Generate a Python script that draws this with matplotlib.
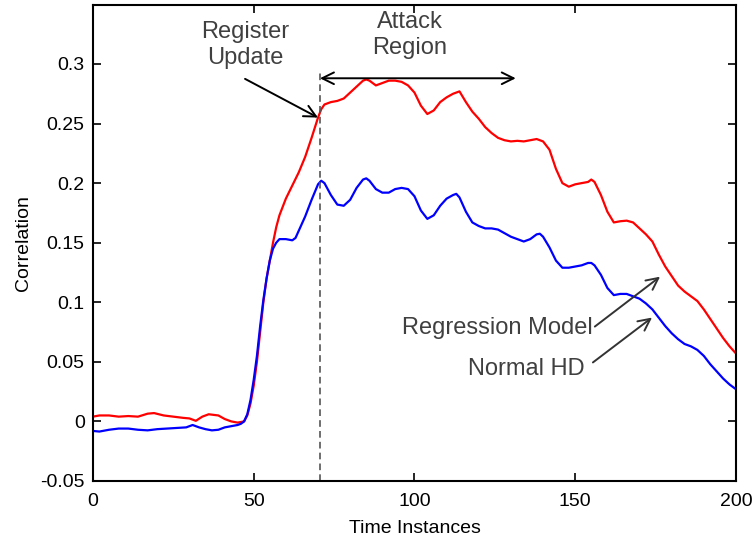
import matplotlib
matplotlib.use('Agg')
import matplotlib.pyplot as plt

plt.rcParams['font.family'] = ['Liberation Sans', 'DejaVu Sans']

# time instances sampled along each curve
t_red = [0, 2, 5, 8, 11, 14, 17, 19, 22, 25, 28, 30, 32, 34, 36, 39, 41, 43, 45, 47,
         48, 49, 50, 51, 52, 53, 54, 55, 56, 57, 58, 59, 60, 62, 64, 66, 68, 70, 71, 72,
         74, 76, 78, 80, 82, 84, 85, 86, 88, 90, 92, 94, 96, 98, 100, 102, 104, 106, 108,
         110, 112, 114, 116, 118, 120, 122, 124, 126, 128, 130, 132, 134, 136, 138, 140,
         142, 144, 146, 148, 150, 152, 154, 155, 156, 158, 160, 162, 164, 166, 168, 170,
         172, 174, 176, 178, 180, 182, 184, 186, 188, 190, 192, 194, 196, 198, 200]
regression_model = [0.004, 0.005, 0.005, 0.004, 0.0045, 0.004, 0.0065, 0.007, 0.005, 0.004,
                    0.003, 0.0025, 0.0005, 0.004, 0.006, 0.005, 0.002, 0.0, -0.001, 0.0,
                    0.005, 0.015, 0.03, 0.05, 0.075, 0.1, 0.12, 0.135, 0.15, 0.163, 0.173,
                    0.18, 0.187, 0.198, 0.209, 0.222, 0.238, 0.255, 0.262, 0.266, 0.268,
                    0.269, 0.271, 0.276, 0.281, 0.286, 0.287, 0.286, 0.282, 0.284, 0.286,
                    0.286, 0.285, 0.282, 0.276, 0.265, 0.258, 0.261, 0.268, 0.272, 0.275,
                    0.277, 0.268, 0.26, 0.254, 0.247, 0.242, 0.238, 0.236, 0.235, 0.2355,
                    0.235, 0.236, 0.237, 0.235, 0.228, 0.212, 0.2, 0.197, 0.199, 0.2, 0.201,
                    0.203, 0.201, 0.19, 0.176, 0.167, 0.168, 0.1685, 0.167, 0.162, 0.157,
                    0.151, 0.14, 0.13, 0.122, 0.114, 0.109, 0.105, 0.101, 0.094, 0.086,
                    0.078, 0.07, 0.063, 0.057]

t_blue = [0, 2, 5, 8, 11, 14, 17, 20, 23, 26, 29, 31, 33, 35, 37, 39, 41, 43, 45, 46,
          47, 48, 49, 50, 51, 52, 53, 54, 55, 56, 57, 58, 60, 62, 63, 64, 66, 68, 70, 71,
          72, 74, 76, 78, 80, 82, 84, 85, 86, 88, 90, 92, 94, 96, 98, 100, 102, 104, 106,
          108, 110, 112, 113, 114, 116, 118, 120, 122, 124, 126, 128, 130, 132, 134, 136,
          138, 139, 140, 142, 144, 146, 148, 150, 152, 154, 155, 156, 158, 160, 162, 164,
          166, 168, 170, 172, 174, 176, 178, 180, 182, 184, 186, 188, 190, 192, 194, 196,
          198, 200]
normal_hd = [-0.008, -0.0085, -0.007, -0.006, -0.006, -0.007, -0.0075, -0.0065, -0.006,
             -0.0055, -0.005, -0.003, -0.005, -0.0065, -0.0075, -0.007, -0.005, -0.004,
             -0.003, -0.002, 0.0, 0.006, 0.018, 0.035, 0.055, 0.08, 0.102, 0.12, 0.135,
             0.145, 0.15, 0.153, 0.153, 0.152, 0.154, 0.16, 0.172, 0.186, 0.199, 0.202,
             0.2, 0.19, 0.182, 0.181, 0.186, 0.196, 0.203, 0.204, 0.202, 0.195, 0.192,
             0.192, 0.195, 0.196, 0.195, 0.189, 0.177, 0.17, 0.173, 0.181, 0.187, 0.19,
             0.191, 0.188, 0.176, 0.167, 0.164, 0.162, 0.162, 0.161, 0.158, 0.155, 0.153,
             0.151, 0.153, 0.157, 0.1575, 0.155, 0.146, 0.135, 0.129, 0.129, 0.13, 0.131,
             0.133, 0.133, 0.131, 0.123, 0.112, 0.106, 0.107, 0.107, 0.105, 0.103, 0.099,
             0.094, 0.087, 0.08, 0.074, 0.069, 0.065, 0.063, 0.06, 0.055, 0.048, 0.042,
             0.036, 0.031, 0.027]

x_ticks = [0, 50, 100, 150, 200]
y_ticks = [-0.05, 0, 0.05, 0.1, 0.15, 0.2, 0.25, 0.3]
y_tick_labels = ['-0.05', '0', '0.05', '0.1', '0.15', '0.2', '0.25', '0.3']

register_update = 70.6
attack_end = 131.5

fig = plt.figure(figsize=(7.54, 5.37), dpi=100)
ax = fig.add_axes([0.1233, 0.1043, 0.8528, 0.8864])

ax.plot(t_red, regression_model, color='red', lw=1.6)
ax.plot(t_blue, normal_hd, color='blue', lw=1.6)

ax.plot([register_update, register_update], [-0.05, 0.293],
        color='#555555', lw=1.2, ls=(0, (4, 2.5)))

ax.set_xlim(0, 200)
ax.set_ylim(-0.05, 0.3495)
ax.set_xticks(x_ticks)
ax.set_yticks(y_ticks)
ax.set_yticklabels(y_tick_labels)
ax.tick_params(direction='in', top=True, right=True, length=6, width=1.2,
               labelsize=14)
ax.tick_params(axis='x', pad=9)
ax.tick_params(axis='y', pad=6)
for s in ax.spines.values():
    s.set_linewidth(1.5)

ax.set_xlabel('Time Instances', fontsize=14, labelpad=7)
ax.set_ylabel('Correlation', fontsize=14, labelpad=6)

txt = dict(fontsize=17, color='#404040', ha='center', va='center', linespacing=1.25)
arr = dict(arrowstyle='->,head_length=0.85,head_width=0.42', color='black', lw=1.4,
           shrinkA=0, shrinkB=0)

# attack region double arrow
ax.annotate('', xy=(attack_end, 0.288), xytext=(register_update, 0.288),
            arrowprops=dict(arr, arrowstyle='<->,head_length=0.85,head_width=0.42'))
ax.text(98.6, 0.3244, 'Attack\nRegion', **txt)

ax.annotate('', xy=(70.0, 0.255), xytext=(47.3, 0.2875), arrowprops=arr)
ax.text(47.3, 0.316, 'Register\nUpdate', **txt)

ax.annotate('', xy=(176.4, 0.1215), xytext=(156.1, 0.0796),
            arrowprops=dict(arr, color='#333333'))
ax.text(155.5, 0.078, 'Regression Model', fontsize=17, color='#404040',
        ha='right', va='center')

ax.annotate('', xy=(173.9, 0.0872), xytext=(155.5, 0.0495),
            arrowprops=dict(arr, color='#333333'))
ax.text(153.0, 0.0444, 'Normal HD', fontsize=17, color='#404040',
        ha='right', va='center')

fig.savefig('out.png', dpi=100)
